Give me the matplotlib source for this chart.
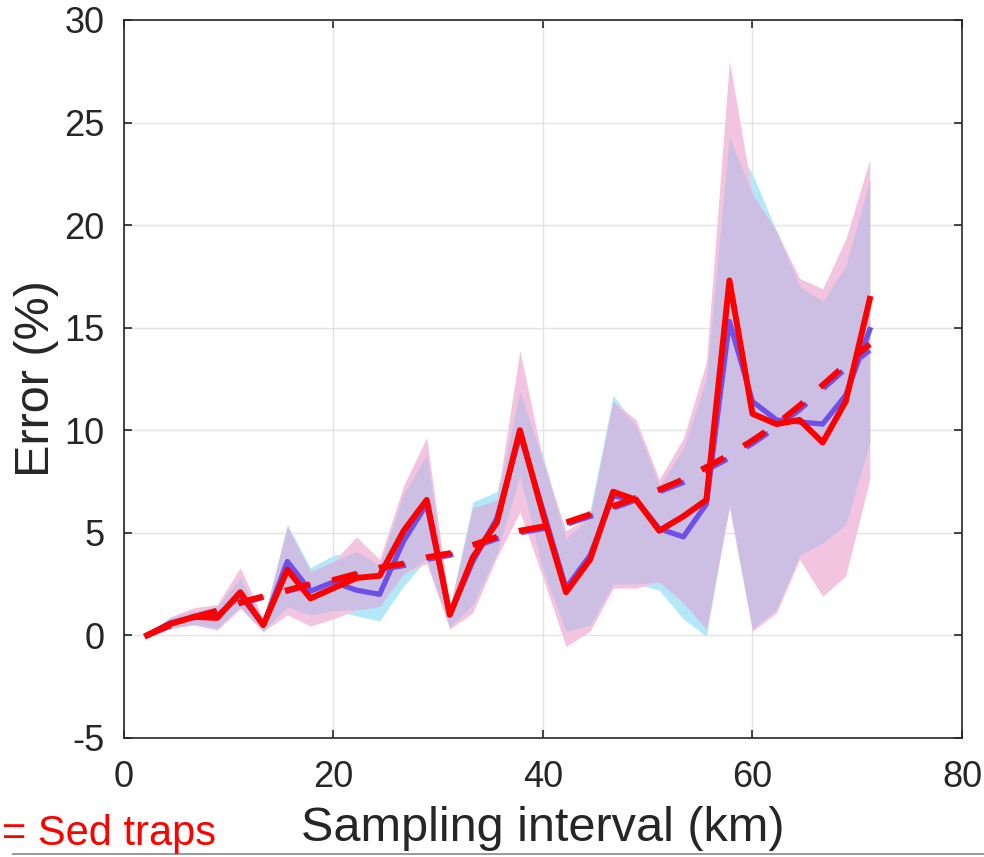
import numpy as np
import matplotlib.pyplot as plt

# Stichprobenabstand (km) und Fehler (%)
sampling_km = [2.2, 4.4, 6.7, 8.9, 11.1, 13.3, 15.6, 17.8, 20.0, 22.2, 24.4, 26.7, 28.9, 31.1, 33.3, 35.6,
               37.8, 40.0, 42.2, 44.5, 46.7, 48.9, 51.1, 53.4, 55.6, 57.8, 60.0, 62.3, 64.5, 66.7, 68.9, 71.2]

red_err = [0.0, 0.55, 0.9, 0.85, 2.1, 0.5, 3.2, 1.8, 2.3, 2.8, 2.9, 5.1, 6.6, 1.0, 3.8, 5.5,
           10.0, 5.9, 2.1, 3.7, 7.0, 6.6, 5.1, 5.8, 6.6, 17.3, 10.8, 10.3, 10.5, 9.4, 11.4, 16.4]
red_lo = [0.0, 0.35, 0.5, 0.25, 1.3, 0.2, 1.0, 0.45, 0.8, 1.25, 1.4, 3.0, 3.5, 0.3, 1.1, 3.8,
          6.0, 2.8, -0.55, 0.2, 2.3, 2.3, 2.6, 1.6, 0.3, 6.2, 0.2, 1.1, 3.7, 1.9, 2.9, 7.6]
red_hi = [0.0, 0.9, 1.35, 1.5, 3.3, 0.8, 5.3, 3.1, 3.6, 4.8, 3.7, 7.3, 9.65, 1.4, 6.2, 6.6,
          13.9, 8.5, 5.1, 5.8, 11.4, 10.5, 7.6, 9.6, 13.3, 28.0, 21.5, 19.7, 17.4, 16.9, 19.3, 23.2]
red_trend = [0.0, 0.5, 0.9, 1.2, 1.6, 1.9, 2.2, 2.5, 2.7, 3.0, 3.3, 3.5, 3.8, 4.0, 4.4, 4.8,
             5.1, 5.3, 5.5, 5.9, 6.3, 6.7, 7.1, 7.6, 8.2, 8.8, 9.5, 10.3, 11.2, 12.2, 13.2, 14.2]

blue_err = [0.0, 0.6, 0.9, 0.95, 1.95, 0.5, 3.6, 2.15, 2.6, 2.2, 2.0, 4.6, 6.4, 1.0, 3.6, 5.7,
            9.8, 6.1, 2.3, 3.9, 6.8, 6.6, 5.2, 4.8, 6.4, 15.3, 11.4, 10.5, 10.4, 10.3, 11.7, 14.9]
blue_lo = [0.0, 0.3, 0.55, 0.35, 1.4, 0.15, 1.4, 1.0, 1.2, 0.95, 0.7, 2.4, 3.7, 0.4, 1.5, 4.0,
           7.8, 3.2, 0.2, 0.5, 2.5, 2.5, 2.2, 0.8, -0.05, 6.4, 0.3, 1.3, 3.9, 4.5, 5.4, 9.4]
blue_hi = [0.0, 0.85, 1.2, 1.4, 2.8, 0.7, 5.4, 3.3, 3.9, 4.1, 3.4, 6.9, 8.8, 1.3, 6.5, 7.0,
           11.9, 8.8, 4.7, 6.1, 11.7, 10.2, 7.3, 9.1, 12.5, 24.3, 22.5, 19.7, 17.0, 16.3, 18.0, 22.2]
blue_trend = [0.0, 0.45, 0.85, 1.15, 1.55, 1.85, 2.15, 2.45, 2.65, 2.95, 3.2, 3.4, 3.7, 3.9, 4.3, 4.7,
              5.0, 5.2, 5.4, 5.8, 6.2, 6.6, 7.0, 7.45, 8.05, 8.65, 9.35, 10.15, 11.0, 12.0, 13.0, 13.9]

plt.rcParams['font.family'] = ['Liberation Sans', 'DejaVu Sans']
plt.rcParams['axes.unicode_minus'] = False

fig = plt.figure(figsize=(9.84, 8.57), dpi=100)
ax = fig.add_axes([0.126, 0.139, 0.8516, 0.8377])

x = np.array(sampling_km)
ax.fill_between(x, blue_lo, blue_hi, color='#b3e8f8', lw=0, zorder=1)
ax.fill_between(x, red_lo, red_hi, color='#f3c4df', lw=0, zorder=2)
# Ueberlappung beider Bereiche
ov_lo = np.maximum(blue_lo, red_lo)
ov_hi = np.minimum(blue_hi, red_hi)
ax.fill_between(x, ov_lo, ov_hi, where=ov_hi > ov_lo, interpolate=True, color='#cdbfe3', lw=0, zorder=3)

ax.plot(x, blue_err, color='#6e4fe8', lw=3.8, zorder=4)
ax.plot(x, blue_trend, color='#6e4fe8', lw=3.8, dashes=(4.9, 4.3), zorder=4)
ax.plot(x, red_err, color='#ff0000', lw=4.3, zorder=5)
ax.plot(x, red_trend, color='#ff0000', lw=4.3, dashes=(4.3, 3.8), zorder=5)

ax.set_xlim(0, 80)
ax.set_ylim(-5, 30)
ax.set_xticks([0, 20, 40, 60, 80])
ax.set_yticks([-5, 0, 5, 10, 15, 20, 25, 30])
ax.grid(True, color='#e3e3e3', lw=1.0)
ax.set_axisbelow(True)
ax.tick_params(direction='in', length=6, width=1.2, top=True, right=True,
               labelsize=26, colors='#262626', pad=14)
ax.tick_params(axis='x', pad=16)
for s in ax.spines.values():
    s.set_color('#262626')
    s.set_linewidth(1.2)

ax.set_xlabel('Sampling interval (km)', fontsize=35, color='#262626', labelpad=8)
ax.set_ylabel('Error (%)', fontsize=35, color='#262626', labelpad=4)

fig.text(0.002, 0.004, '= Sed traps', color='#ff0000', fontsize=30, ha='left', va='bottom')
fig.add_artist(plt.Line2D([0.013, 1.0], [0.003, 0.003], color='#888888', lw=1.2))

fig.savefig('out.png', dpi=100)
